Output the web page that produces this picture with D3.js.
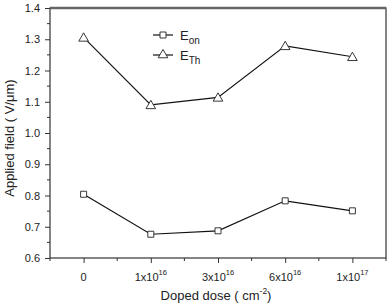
<!DOCTYPE html>
<html>
<head>
<meta charset="utf-8">
<script src="https://cdn.jsdelivr.net/npm/d3@7"></script>
<style>
  body { margin: 0; background: white; }
  text { font-family: "Liberation Sans", Arial, sans-serif; fill: #222; }
</style>
</head>
<body>
<div id="container"></div>
<script>
let w = 388;
let h = 305;

// data
let doses = ["0", "1x10^16", "3x10^16", "6x10^16", "1x10^17"];
let eOn = [0.804, 0.676, 0.687, 0.783, 0.751];
let eTh = [1.306, 1.090, 1.114, 1.279, 1.244];
let yTicks = [0.6, 0.7, 0.8, 0.9, 1.0, 1.1, 1.2, 1.3, 1.4];

let padLeft = 50, padRight = 386, padTop = 8, padBottom = 258;

let viz = d3.select("#container").append("svg")
    .attr("width", w)
    .attr("height", h)
    .style("background-color", "white");

let xScale = d3.scaleLinear().domain([-0.5, doses.length - 0.5]).range([padLeft, padRight]);
let yScale = d3.scaleLinear().domain([0.6, 1.4]).range([padBottom, padTop]);

// frame
viz.append("rect")
    .attr("x", padLeft).attr("y", padTop)
    .attr("width", padRight - padLeft).attr("height", padBottom - padTop)
    .attr("fill", "none").attr("stroke", "#333").attr("stroke-width", 1.2);
viz.append("line")
    .attr("x1", padLeft).attr("x2", padRight).attr("y1", padTop).attr("y2", padTop)
    .attr("stroke", "#666").attr("stroke-width", 2.5);

// y axis
let yAxis = d3.axisLeft(yScale).tickValues(yTicks).tickFormat(d3.format(".1f")).tickSize(5).tickPadding(5);
let gy = viz.append("g").attr("transform", `translate(${padLeft},0)`).call(yAxis);
gy.select(".domain").remove();
gy.selectAll("text").attr("font-size", 11).style("font-family", "Liberation Sans, Arial, sans-serif");
gy.selectAll("line").attr("stroke", "#333");
// minor y ticks
let yMinor = d3.range(0.65, 1.4, 0.1);
gy.selectAll(".minor").data(yMinor).enter().append("line")
    .attr("x1", -3).attr("x2", 0)
    .attr("y1", d => yScale(d)).attr("y2", d => yScale(d))
    .attr("stroke", "#333");

// x axis
let xAxis = d3.axisBottom(xScale).tickValues(d3.range(doses.length)).tickFormat("").tickSize(5);
let gx = viz.append("g").attr("transform", `translate(0,${padBottom})`).call(xAxis);
gx.select(".domain").remove();
gx.selectAll("line").attr("stroke", "#333");
let xMinor = d3.range(-0.5, doses.length, 1);
gx.selectAll(".minor").data(xMinor).enter().append("line")
    .attr("x1", d => xScale(d)).attr("x2", d => xScale(d))
    .attr("y1", 0).attr("y2", 3)
    .attr("stroke", "#333");

// x tick labels with superscripts
let xl = viz.selectAll(".xlab").data(doses).enter().append("text")
    .attr("class", "xlab")
    .attr("x", (d, i) => xScale(i))
    .attr("y", 281)
    .attr("text-anchor", "middle")
    .attr("font-size", 11);
xl.each(function(d) {
  let parts = d.split("^");
  let t = d3.select(this);
  t.append("tspan").text(parts[0]);
  if (parts[1]) {
    t.append("tspan").text(parts[1]).attr("dy", -6).attr("font-size", 7.5);
  }
});

// axis titles
let xt = viz.append("text")
    .attr("x", 216).attr("y", 300)
    .attr("text-anchor", "middle")
    .attr("font-size", 13);
xt.append("tspan").text("Doped dose ( cm");
xt.append("tspan").text("-2").attr("dy", -6).attr("font-size", 8.5);
xt.append("tspan").text(")").attr("dy", 6);

viz.append("text")
    .attr("transform", `translate(14,138) rotate(-90)`)
    .attr("text-anchor", "middle")
    .attr("font-size", 13)
    .text("Applied field ( V/\u03bcm)");

// lines
let lineMaker = d3.line().x((d, i) => xScale(i)).y(d => yScale(d));
[eOn, eTh].forEach(function(series) {
  viz.append("path")
      .attr("d", lineMaker(series))
      .attr("fill", "none")
      .attr("stroke", "#111")
      .attr("stroke-width", 1.2);
});

// markers
let square = d3.symbol().type(d3.symbolSquare).size(36);
let tri = d3.symbol().type(d3.symbolTriangle).size(40);
viz.selectAll(".sq").data(eOn).enter().append("path")
    .attr("d", square)
    .attr("transform", (d, i) => `translate(${xScale(i)},${yScale(d)})`)
    .attr("fill", "white").attr("stroke", "#222").attr("stroke-width", 0.9);
viz.selectAll(".tr").data(eTh).enter().append("path")
    .attr("d", tri)
    .attr("transform", (d, i) => `translate(${xScale(i)},${yScale(d) + 1})`)
    .attr("fill", "white").attr("stroke", "#222").attr("stroke-width", 0.9);

// legend
let legend = [
  {sym: square, main: "E", sub: "on", y: 35},
  {sym: tri, main: "E", sub: "Th", y: 55}
];
legend.forEach(function(l) {
  viz.append("line").attr("x1", 153).attr("x2", 173).attr("y1", l.y).attr("y2", l.y)
      .attr("stroke", "#111").attr("stroke-width", 1.2);
  viz.append("path").attr("d", l.sym)
      .attr("transform", `translate(163,${l.y})`)
      .attr("fill", "white").attr("stroke", "#222").attr("stroke-width", 0.9);
  let t = viz.append("text").attr("x", 180).attr("y", l.y + 5).attr("font-size", 13);
  t.append("tspan").text(l.main);
  t.append("tspan").text(l.sub).attr("dy", 4).attr("font-size", 10);
});
</script>
</body>
</html>
